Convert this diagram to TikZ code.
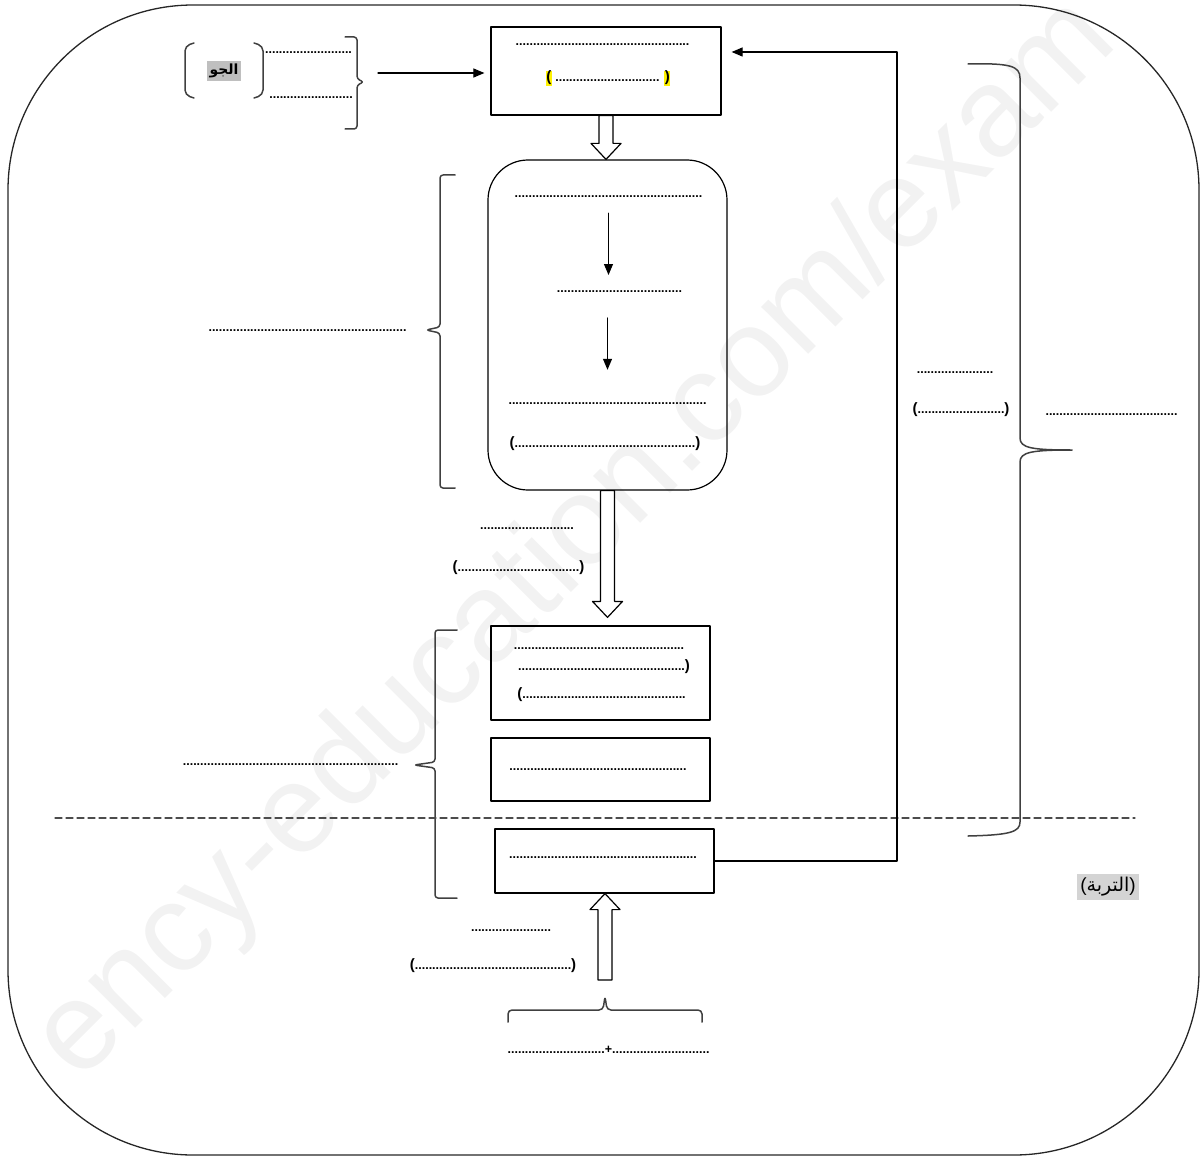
\documentclass[tikz,border=0pt]{standalone}
\usepackage{fontspec}
\setmainfont{Liberation Sans}
\newfontfamily\arabicfont[Script=Arabic]{DejaVu Sans}
\TeXXeTstate=1
\usetikzlibrary{arrows.meta,calc}

\newcommand\dts[1]{\foreach\k in {1,...,#1}{.}}
\newcommand\pr[1]{{\fontsize{15}{15}\selectfont#1}}
\newcommand\hl[1]{{\setlength\fboxsep{0.6pt}\colorbox{yellow}{\pr{#1}}}}
\newcommand\fatarrow[2]{%
  \path (#2) coordinate (fa tip) ($(#2)!16pt!(#1)$) coordinate (fa base);
  \draw[fat] ($(#1)!7pt!90:(fa tip)$) -- ($(fa base)!7pt!90:(fa tip)$)
    -- ($(fa base)!15pt!90:(fa tip)$) -- (fa tip)
    -- ($(fa base)!15pt!-90:(fa tip)$) -- ($(fa base)!7pt!-90:(fa tip)$)
    -- ($(#1)!7pt!-90:(fa tip)$) -- cycle;}

\tikzset{
  box/.style={draw, line width=1.2pt, inner sep=0pt},
  dl/.style={font=\fontsize{12.5}{14}\selectfont\bfseries, text height=8pt, text depth=2pt, inner sep=1pt, anchor=base},
  brace/.style={draw=black!75, line width=1.5pt, rounded corners=3pt},
  fat/.style={draw, line width=1.2pt, fill=white},
}

\begin{document}
\begin{tikzpicture}[x=1pt, y=-1pt, line cap=round, line join=round, >={Triangle[width=9pt,length=11pt]}]
\useasboundingbox (0,0) rectangle (1201,1158);

% watermark
\node[font=\fontsize{126}{126}\selectfont, text=black!5, rotate=45, anchor=mid] (wm) at (598,562) {ency-education.com/exam};

% frame
\draw[line width=1.3pt, black!85, rounded corners=185pt] (8,5) rectangle (1199,1155);

% atmosphere
\node[fill=black!25, inner sep=3pt, font={\arabicfont\fontsize{14}{16}\selectfont\bfseries}] (air) at (224,71) {\beginR الجو\endR};
\draw[brace, rounded corners=5pt] (194,43) -- (185,46) -- (185,95) -- (194,98);
\draw[brace, rounded corners=5pt] (254,43) -- (263,46) -- (263,95) -- (254,98);
\node[dl] (a1) at (308.5,54) {\dts{25}};
\node[dl] (a2) at (311,99) {\dts{24}};
\draw[brace] (345,37) -- (357,37) -- (357,79) -- (364,82) -- (357,85) -- (357,129) -- (345,129);

% fixation box
\node[box, minimum width=230pt, minimum height=88pt] (fixbox) at (606,71) {};
\node[dl] (t1) at (602.5,46) {\dts{50}};
\node[dl] (t2) at (608,82) {\hl{(} \dts{30} \hl{)}};
\coordinate (airtip) at (378,73);
\draw[->, line width=1.1pt, shorten >=6pt] (airtip) -- (fixbox.west |- airtip);

% plant box
\node[box, rounded corners=40pt, minimum width=239pt, minimum height=330pt] (plantbox) at (607.5,325) {};
\node[dl] (r1) at (608.5,198) {\dts{54}};
\node[dl] (r2) at (619.5,292) {\dts{36}};
\node[dl] (r3) at (607.5,404) {\dts{57}};
\node[dl] (r4) at (605,447) {\pr(\dts{52}\pr)};
\draw[->, line width=1.1pt, shorten <=12pt, shorten >=14pt] (r1) -- (r1 |- r2);
\draw[->, line width=1.1pt, shorten <=29pt, shorten >=25pt] (r3 |- r2) -- (r3);
\draw[brace] (455,175) -- (440,175) -- (440,327) -- (426,330) -- (440,333) -- (440,488) -- (455,488);
\node[dl] (rl) at (307.5,331) {\dts{57}};

\coordinate (p1) at (fixbox.south |- plantbox.north);
\fatarrow{fixbox.south}{p1}

% middle labels
\node[dl] (m1) at (527,529) {\dts{27}};
\node[dl] (m2) at (518.5,571) {\pr(\dts{35}\pr)};

% soil boxes
\node[box, minimum width=219pt, minimum height=94pt] (soilA) at (600.5,673) {};
\node[dl] (b1) at (599,649) {\dts{49}};
\node[dl] (b2) at (604,670) {\dts{48}\pr)};
\node[dl] (b3) at (601.5,698) {\pr(\dts{47}};
\node[box, minimum width=219pt, minimum height=63pt] (soilB) at (600.5,769.5) {};
\node[dl] (b4) at (598,770) {\dts{51}};
\node[box, minimum width=219pt, minimum height=64pt] (soilC) at (604.5,861) {};
\node[dl] (b5) at (603,858) {\dts{54}};
\draw[brace] (457,630) -- (435,630) -- (435,762) -- (414,765) -- (435,768) -- (435,898) -- (457,898);
\node[dl] (bl) at (290.5,765) {\dts{62}};

\coordinate (p2) at ($(plantbox.south |- soilA.north)+(0,-8)$);
\fatarrow{plantbox.south}{p2}

% ground line
\draw[black!70, line width=1.2pt, dash pattern=on 7pt off 4pt] (55,818) -- (1135,818);

% return path
\coordinate (fb) at (897,52);
\draw[->, line width=1.1pt, shorten >=10pt] (soilC.east) -| (fb) -- (fixbox.east |- fb);
\node[dl] (f1) at (955,373) {\dts{22}};
\node[dl] (f2) at (961,413) {\pr(\dts{25}\pr)};

% big brace
\draw[brace, rounded corners=0pt] (968,64) .. controls (1010,63) and (1020,66) .. (1020,78) -- (1020,438)
  .. controls (1020,448) and (1032,450) .. (1072,450) .. controls (1032,450) and (1020,452) .. (1020,462)
  -- (1020,822) .. controls (1020,832) and (1010,835) .. (968,836);
\node[dl] (bb) at (1111.5,415) {\dts{38}};
\node[fill=black!17, inner sep=3pt, font={\fontsize{19}{21}\selectfont}] (soil) at (1108,887) {(\beginR{\arabicfont التربة}\endR)};

% bottom
\node[dl] (u1) at (511,931) {\dts{23}};
\node[dl] (u2) at (493,969) {\pr(\dts{45}\pr)};
\coordinate (p3) at (605,980);
\fatarrow{p3}{soilC.south -| p3}
\draw[brace, rounded corners=4pt] (508,1022) -- (508,1010) -- (603,1010) -- (605,996) -- (607,1010) -- (702,1010) -- (702,1022);
\node[dl] (sum) at (608.5,1053) {\dts{28}+\dts{28}};

\end{tikzpicture}
\end{document}
